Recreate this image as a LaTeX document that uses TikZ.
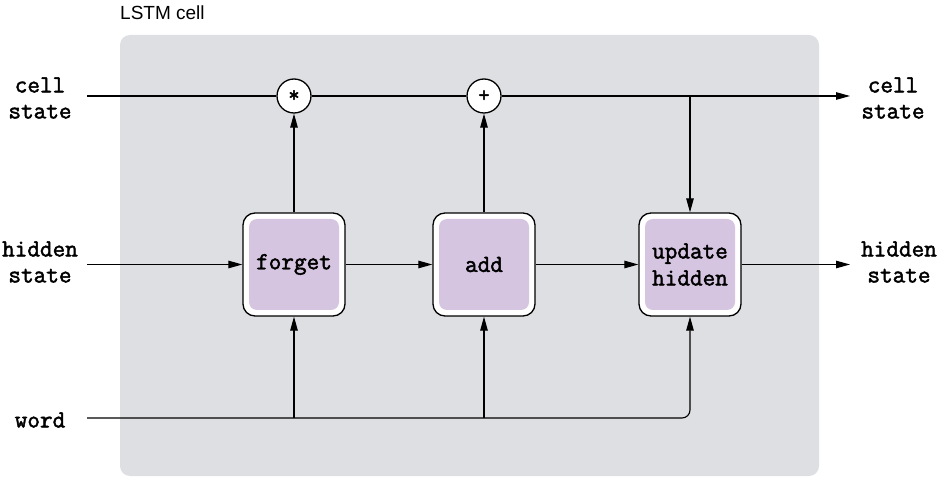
\documentclass[tikz,border=0pt]{standalone}
\usepackage{fontspec}
\setmainfont{Liberation Sans}
\newfontfamily\gatefont{Latin Modern Mono}[FakeBold=2]
\usetikzlibrary{arrows.meta}
\definecolor{cellgray}{RGB}{222,223,226}
\definecolor{gatepurple}{RGB}{213,197,224}
\begin{document}
\begin{tikzpicture}[x=1pt,y=-1pt,
    gate/.style={draw,fill=white,line width=1.3pt,rounded corners=12pt,minimum width=102pt,minimum height=103pt},
    gatein/.style={fill=gatepurple,rounded corners=8pt,minimum width=90pt,minimum height=91pt,align=center,font=\fontsize{24.5}{27}\selectfont\gatefont},
    op/.style={circle,draw,fill=white,line width=1.3pt,minimum size=34pt,inner sep=0pt,font=\fontsize{22}{22}\selectfont\gatefont},
    lbl/.style={align=center,font=\fontsize{24.5}{26}\selectfont\gatefont},
    flow/.style={line width=1.1pt,-{Triangle[length=14pt,width=7.5pt]}}]

    \useasboundingbox (0,0) rectangle (940,478);
    \fill[cellgray,rounded corners=10pt] (120,35) rectangle (819,476);
    \node[anchor=base west,inner sep=0pt,font=\fontsize{19}{19}\selectfont] (title) at (120,20) {LSTM cell};

    % inputs and outputs
    \node[lbl] (cellin) at (40,98) {cell\\state};
    \node[lbl] (hidin) at (40,262) {hidden\\state};
    \node[lbl] (wordin) at (40,420) {word};
    \node[lbl] (cellout) at (893,98) {cell\\state};
    \node[lbl] (hidout) at (899,262) {hidden\\state};

    \coordinate (cellstart) at (87,96);
    \coordinate (cellend) at (850,96);
    \coordinate (hidstart) at (87,264.5);
    \coordinate (hidend) at (850,264.5);
    \coordinate (wordstart) at (87,418);

    % gates
    \node[gate] (forget) at (294,264.5) {};
    \node[gatein] (forgetin) at (forget) {\raisebox{-3pt}{forget}};
    \node[gate] (add) at (484,264.5) {};
    \node[gatein] (addin) at (add) {\raisebox{-2pt}{add}};
    \node[gate] (upd) at (690,264.5) {};
    \node[gatein] (updin) at (upd) {update\\hidden};

    \node[op] (mul) at (294,96) {*};
    \node[op] (plus) at (484,96) {+};

    % cell state
    \draw[line width=1.1pt] (cellstart) -- (mul);
    \draw[line width=1.1pt] (mul) -- (plus);
    \draw[flow] (plus) -- (cellend);
    \draw[flow] (upd.north |- cellend) -- (upd.north);
    \draw[flow] (forget) -- (mul);
    \draw[flow] (add) -- (plus);

    % hidden state
    \draw[flow] (hidstart) -- (forget.west);
    \draw[flow] (forget) -- (add);
    \draw[flow] (add) -- (upd);
    \draw[flow] (upd.east) -- (hidend);

    % word
    \draw[flow,rounded corners=8pt] (wordstart) -| (upd.south);
    \draw[flow] (forget.south |- wordstart) -- (forget.south);
    \draw[flow] (add.south |- wordstart) -- (add.south);

\end{tikzpicture}
\end{document}
